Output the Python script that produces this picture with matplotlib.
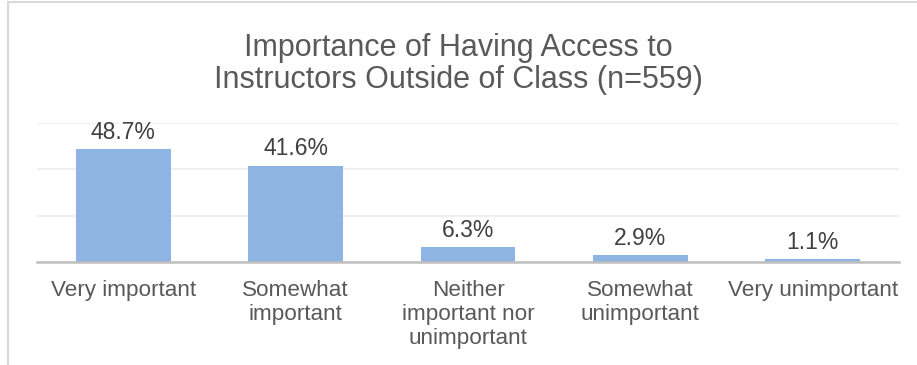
import matplotlib
matplotlib.use("Agg")
from matplotlib import pyplot as plt
from matplotlib.lines import Line2D

categories = ["Very important", "Somewhat\nimportant", "Neither\nimportant nor\nunimportant",
              "Somewhat\nunimportant", "Very unimportant"]
values = [48.7, 41.6, 6.3, 2.9, 1.1]
value_labels = ["48.7%", "41.6%", "6.3%", "2.9%", "1.1%"]
title = "Importance of Having Access to\nInstructors Outside of Class (n=559)"

plt.rcParams["font.family"] = ["Liberation Sans", "DejaVu Sans"]

fig = plt.figure(figsize=(9.17, 3.65), dpi=100)
ax = fig.add_axes([37/917, 1 - 262/365, (899 - 37)/917, (262 - 123)/365])

x = range(len(categories))
bars = ax.bar(x, values, width=0.55, color="#8DB4E2", zorder=2)
for bar, lab in zip(bars, value_labels):
    ax.annotate(lab, (bar.get_x() + bar.get_width()/2, bar.get_height()),
                xytext=(0, 4), textcoords="offset points", ha="center", va="bottom",
                fontsize=16.5, color="#404040")

ax.set_xlim(-0.5, len(categories) - 0.5)
ax.set_ylim(0, 60)
ax.set_yticks([0, 20, 40, 60])
ax.yaxis.grid(True, color="#ECECEC", linewidth=1.2, zorder=0)
ax.set_axisbelow(True)
ax.tick_params(axis="y", left=False, labelleft=False)
ax.set_xticks(list(x))
ax.set_xticklabels(categories, fontsize=16.2, color="#595959", linespacing=1.18)
ax.tick_params(axis="x", length=0, pad=13)
for s in ["top", "right", "left"]:
    ax.spines[s].set_visible(False)
ax.spines["bottom"].set_color("#BFBFBF")
ax.spines["bottom"].set_linewidth(1.8)
ax.spines["bottom"].set_zorder(3)

fig.text(0.5, 1 - 88/365, title, ha="center", va="baseline", fontsize=22,
         color="#595959", linespacing=1.1)

# chart border (top and left visible)
fig.add_artist(Line2D([8/917, 8/917], [0, 1 - 2/365], color="#D9D9D9", linewidth=1.5))
fig.add_artist(Line2D([8/917, 1], [1 - 2/365, 1 - 2/365], color="#D9D9D9", linewidth=1.5))

plt.savefig("out.png", dpi=100)
